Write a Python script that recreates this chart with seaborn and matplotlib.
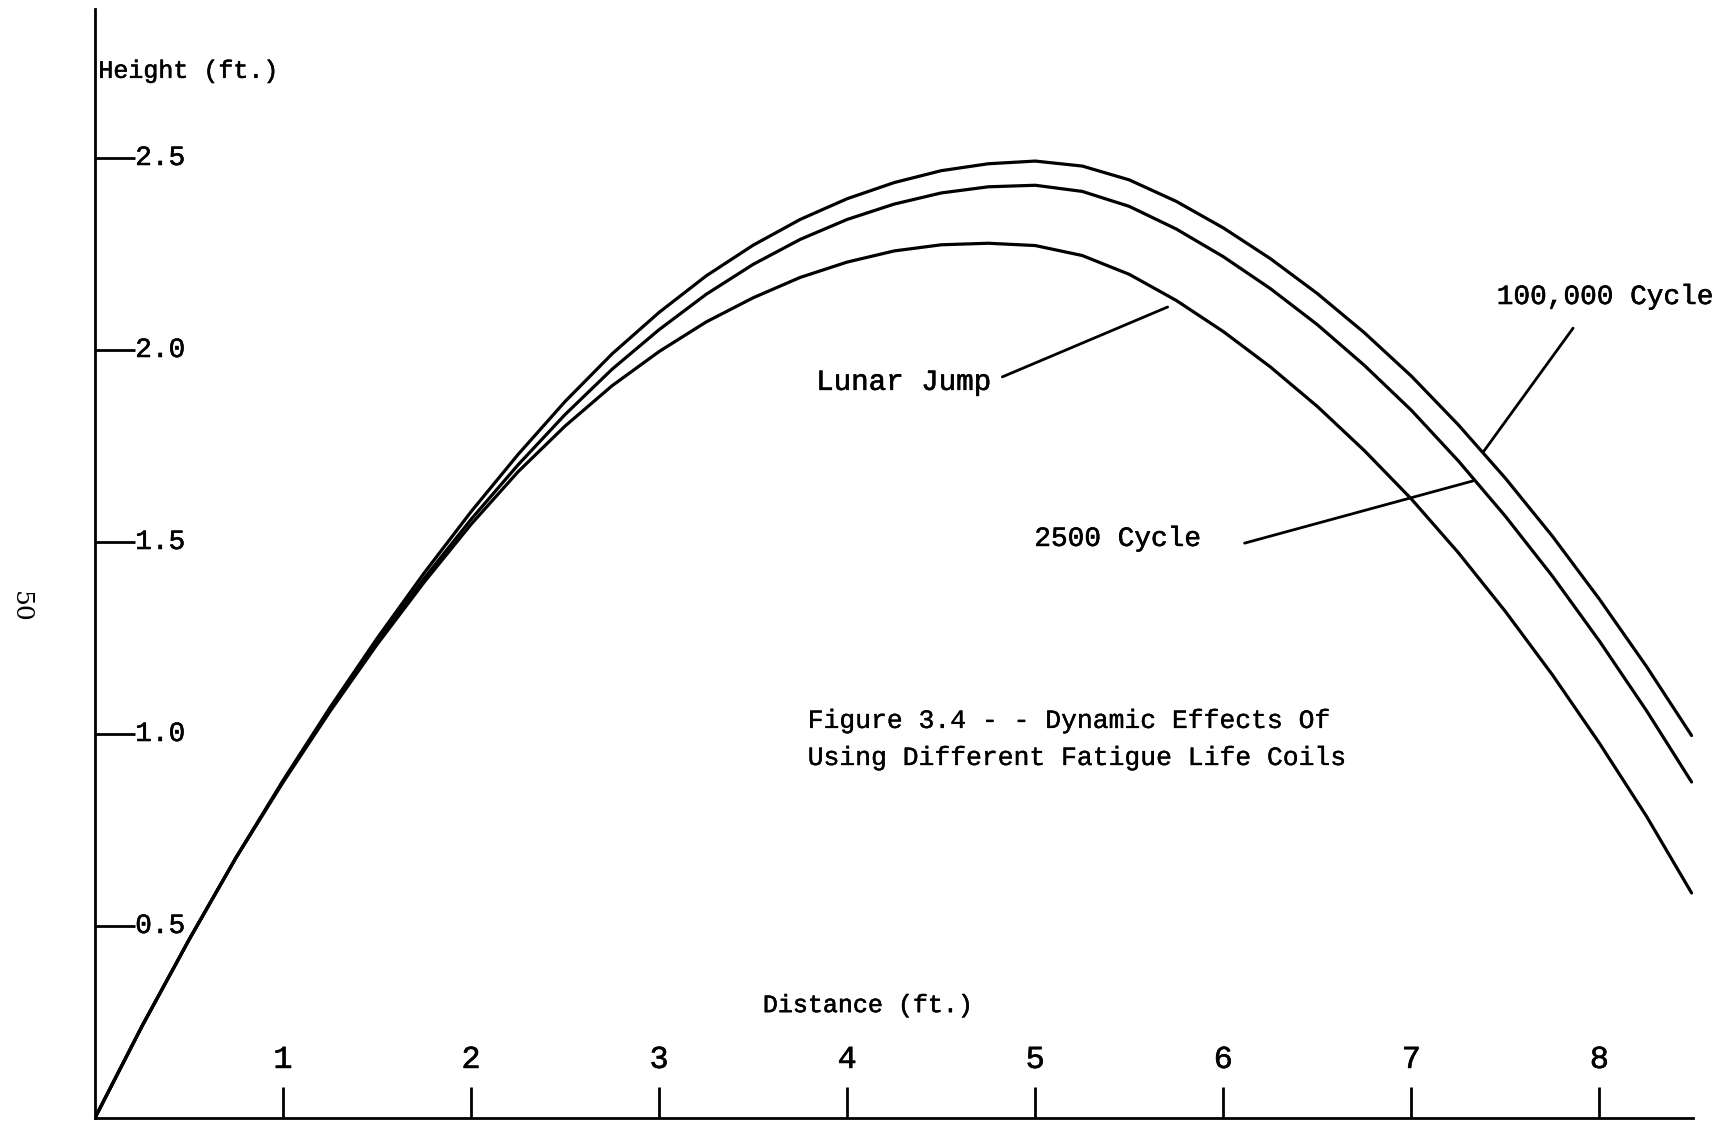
import matplotlib
matplotlib.use("Agg")
import matplotlib.pyplot as plt
import matplotlib.patheffects as pe
import seaborn as sns
import pandas as pd

# ---------------- data ----------------
distance = [0, 0.25, 0.5, 0.75, 1.0, 1.25, 1.5, 1.75, 2.0, 2.25, 2.5, 2.75,
            3.0, 3.25, 3.5, 3.75, 4.0, 4.25, 4.5, 4.75, 5.0, 5.25, 5.5, 5.75,
            6.0, 6.25, 6.5, 6.75, 7.0, 7.25, 7.5, 7.75, 8.0, 8.25, 8.49]

height_100000_cycle = [0, 0.239, 0.464, 0.678, 0.879, 1.069, 1.249, 1.419,
                       1.579, 1.728, 1.866, 1.990, 2.098, 2.193, 2.273, 2.340,
                       2.394, 2.436, 2.467, 2.485, 2.492, 2.479, 2.443, 2.387,
                       2.318, 2.238, 2.147, 2.045, 1.932, 1.805, 1.666, 1.515,
                       1.351, 1.176, 0.996]

height_2500_cycle = [0, 0.239, 0.464, 0.678, 0.877, 1.064, 1.240, 1.405,
                     1.559, 1.701, 1.832, 1.950, 2.053, 2.145, 2.223, 2.288,
                     2.340, 2.380, 2.409, 2.425, 2.429, 2.413, 2.374, 2.315,
                     2.243, 2.160, 2.066, 1.960, 1.843, 1.711, 1.567, 1.411,
                     1.242, 1.061, 0.875]

height_lunar_jump = [0, 0.239, 0.464, 0.678, 0.874, 1.059, 1.233, 1.395,
                     1.546, 1.683, 1.802, 1.907, 1.996, 2.073, 2.136, 2.189,
                     2.229, 2.258, 2.274, 2.278, 2.272, 2.246, 2.197, 2.129,
                     2.048, 1.956, 1.853, 1.738, 1.612, 1.472, 1.319, 1.154,
                     0.976, 0.786, 0.586]

series_names = ["100,000 Cycle", "2500 Cycle", "Lunar Jump"]

x_ticks = [1, 2, 3, 4, 5, 6, 7, 8]
x_tick_labels = ["1", "2", "3", "4", "5", "6", "7", "8"]
y_ticks = [0.5, 1.0, 1.5, 2.0, 2.5]
y_tick_labels = ["0.5", "1.0", "1.5", "2.0", "2.5"]

# label anchor positions and leader lines (data coordinates)
label_pos = {"Lunar Jump": (3.835, 1.917),
             "2500 Cycle": (4.995, 1.508),
             "100,000 Cycle": (7.454, 2.138)}
label_size = {"Lunar Jump": 21, "2500 Cycle": 20, "100,000 Cycle": 20}
leader_start = {"Lunar Jump": (4.825, 1.930),
                "2500 Cycle": (6.113, 1.497),
                "100,000 Cycle": (7.86, 2.057)}
leader_end = {"Lunar Jump": (5.704, 2.112),
              "2500 Cycle": (7.327, 1.659),
              "100,000 Cycle": (7.386, 1.737)}

caption_lines = ["Figure 3.4 - - Dynamic Effects Of",
                 "Using Different Fatigue Life Coils"]

# ---------------- long-form table ----------------
df = pd.concat([
    pd.DataFrame({"Distance": distance, "Height": h, "Series": n})
    for n, h in zip(series_names,
                    [height_100000_cycle, height_2500_cycle, height_lunar_jump])
], ignore_index=True)

# ---------------- figure ----------------
sns.set_theme(style="white")
plt.rcParams["font.family"] = ["Liberation Mono", "DejaVu Sans"]

thick = [pe.withStroke(linewidth=0.4, foreground="black")]

fig = plt.figure(figsize=(17.36, 11.22), dpi=100)
ax = fig.add_axes([0.0547, 0.00357, 0.9208, 0.9884])

for name in series_names:
    sub = df[df["Series"] == name]
    sns.lineplot(data=sub, x="Distance", y="Height", ax=ax, color="black",
                 linewidth=2.3, estimator=None, sort=False, legend=False,
                 solid_capstyle="round", solid_joinstyle="round")

ax.set_xlim(0, 8.5)
ax.set_ylim(0, 2.888)
ax.set_xlabel("")
ax.set_ylabel("")

for s in ["top", "right"]:
    ax.spines[s].set_visible(False)
for s in ["left", "bottom"]:
    ax.spines[s].set_color("black")
    ax.spines[s].set_linewidth(2.0)

ax.set_xticks(x_ticks)
ax.set_xticklabels(x_tick_labels)
ax.set_yticks(y_ticks)
ax.set_yticklabels(y_tick_labels)
ax.tick_params(axis="y", direction="in", length=29, width=2.0, pad=-29,
               labelsize=20, colors="black", left=True)
ax.tick_params(axis="x", direction="in", length=22, width=2.0, pad=-31,
               labelsize=23, colors="black", bottom=True)
plt.setp(ax.get_yticklabels(), ha="left", va="center", path_effects=thick)
plt.setp(ax.get_xticklabels(), va="bottom", path_effects=thick)

# axis titles (placed inside, as in the original)
ax.text(0.018, 2.727, "Height (ft.)", fontsize=18, ha="left", va="center",
        color="black", path_effects=thick)
ax.text(4.11, 0.294, "Distance (ft.)", fontsize=18, ha="center", va="center",
        color="black", path_effects=thick)

# curve labels and leaders
for name in series_names:
    tx, ty = label_pos[name]
    ax.text(tx, ty, name, fontsize=label_size[name], ha="left", va="center",
            color="black", path_effects=thick)
    ax.annotate("", xy=leader_end[name], xytext=leader_start[name],
                arrowprops=dict(arrowstyle="-", color="black", lw=2.0,
                                shrinkA=0, shrinkB=0))

# caption
cap = [pe.withStroke(linewidth=0.25, foreground="black")]
ax.text(3.79, 1.034, caption_lines[0], fontsize=19,
        ha="left", va="center", color="black", path_effects=cap)
ax.text(3.79, 0.9375, caption_lines[1], fontsize=19,
        ha="left", va="center", color="black", path_effects=cap)

# page number
fig.text(20 / 1736, 1 - 607 / 1122, "50", rotation=-90, ha="center",
         va="center", fontsize=18, family="DejaVu Serif", color="black")

fig.savefig("out.png", dpi=100, facecolor="white")
